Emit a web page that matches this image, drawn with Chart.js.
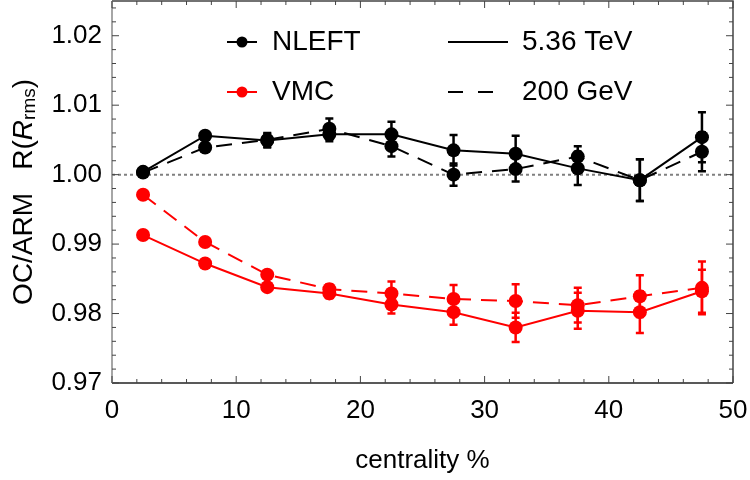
<!DOCTYPE html>
<html>
<head>
<meta charset="utf-8">
<script src="https://cdn.jsdelivr.net/npm/chart.js@4.4.1/dist/chart.umd.min.js"></script>
<style>
  body { margin: 0; background: #fff; }
  #chart { display: block; }
</style>
</head>
<body>
<canvas id="chart" width="750" height="480"></canvas>
<script>
// centrality bins (%)
const centrality = [2.5, 7.5, 12.5, 17.5, 22.5, 27.5, 32.5, 37.5, 42.5, 47.5];

// NLEFT
const nleft536 = [1.0004, 1.0056, 1.0049, 1.0058, 1.0058, 1.0035, 1.0030, 1.0009, 0.9992, 1.0054];
const nleft536Err = [0.0003, 0.0004, 0.0010, 0.0010, 0.0018, 0.0022, 0.0026, 0.0024, 0.0030, 0.0036];
const nleft200 = [1.0003, 1.0039, 1.0050, 1.0066, 1.0041, 1.0000, 1.0008, 1.0026, 0.9992, 1.0033];
const nleft200Err = [0.0003, 0.0004, 0.0010, 0.0015, 0.0015, 0.0016, 0.0018, 0.0015, 0.0030, 0.0028];

// VMC
const vmc536 = [0.9913, 0.9872, 0.9838, 0.9829, 0.9813, 0.9802, 0.9780, 0.9804, 0.9802, 0.9832];
const vmc536Err = [0.0003, 0.0003, 0.0004, 0.0007, 0.0013, 0.0018, 0.0021, 0.0026, 0.0030, 0.0031];
const vmc200 = [0.9971, 0.9903, 0.9856, 0.9835, 0.9829, 0.9821, 0.9818, 0.9812, 0.9825, 0.9837];
const vmc200Err = [0.0003, 0.0003, 0.0005, 0.0007, 0.0017, 0.0020, 0.0024, 0.0025, 0.0030, 0.0038];

const xTicks = [0, 10, 20, 30, 40, 50];
const yTicks = [0.97, 0.98, 0.99, 1.00, 1.01, 1.02];

const FONT = '"Liberation Sans", Arial, sans-serif';

function pts(vals) {
    return vals.map((v, i) => ({ x: centrality[i], y: v }));
}

function series(label, vals, errs, color, dashed) {
    return {
        label,
        data: pts(vals),
        errors: errs,
        borderColor: color,
        backgroundColor: color,
        borderWidth: 2,
        borderDash: dashed ? [16, 10] : [],
        pointRadius: 7,
        pointHoverRadius: 7,
        pointBorderWidth: 0,
        fill: false,
        tension: 0
    };
}

const errorBars = {
    id: 'errorBars',
    beforeDatasetsDraw(chart) {
        const ctx = chart.ctx;
        const yScale = chart.scales.y;
        chart.data.datasets.forEach((ds, i) => {
            if (!ds.errors) return;
            const meta = chart.getDatasetMeta(i);
            ctx.save();
            ctx.strokeStyle = ds.borderColor;
            ctx.lineWidth = 2.5;
            meta.data.forEach((pt, j) => {
                const v = ds.data[j].y;
                const e = ds.errors[j];
                const top = yScale.getPixelForValue(v + e);
                const bot = yScale.getPixelForValue(v - e);
                ctx.beginPath();
                ctx.moveTo(pt.x, top);
                ctx.lineTo(pt.x, bot);
                ctx.moveTo(pt.x - 4, top);
                ctx.lineTo(pt.x + 4, top);
                ctx.moveTo(pt.x - 4, bot);
                ctx.lineTo(pt.x + 4, bot);
                ctx.stroke();
            });
            ctx.restore();
        });
    }
};

const frame = {
    id: 'frame',
    afterDraw(chart) {
        const ctx = chart.ctx;
        const a = chart.chartArea;
        const xs = chart.scales.x;
        const ys = chart.scales.y;
        ctx.save();
        ctx.lineWidth = 1.5;
        // edges
        ctx.strokeStyle = '#444';
        ctx.beginPath();
        ctx.moveTo(a.left, a.top); ctx.lineTo(a.right, a.top); ctx.lineTo(a.right, a.bottom);
        ctx.stroke();
        ctx.strokeStyle = '#222';
        ctx.beginPath();
        ctx.moveTo(a.left, a.bottom); ctx.lineTo(a.right, a.bottom);
        ctx.stroke();
        ctx.strokeStyle = '#888';
        ctx.beginPath();
        ctx.moveTo(a.left, a.top); ctx.lineTo(a.left, a.bottom);
        ctx.stroke();
        // inward ticks
        ctx.strokeStyle = '#444';
        ctx.lineWidth = 1;
        ctx.beginPath();
        for (let v = 0; v <= 50; v += 2) {
            const px = xs.getPixelForValue(v);
            const len = v % 10 === 0 ? 7 : 4;
            ctx.moveTo(px, a.bottom); ctx.lineTo(px, a.bottom - len);
            ctx.moveTo(px, a.top); ctx.lineTo(px, a.top + len);
        }
        for (let k = 0; k <= 27; k++) {
            const v = 0.97 + k * 0.002;
            const py = ys.getPixelForValue(v);
            if (py < a.top) continue;
            const len = k % 5 === 0 ? 7 : 4;
            ctx.moveTo(a.left, py); ctx.lineTo(a.left + len, py);
            ctx.moveTo(a.right, py); ctx.lineTo(a.right - len, py);
        }
        ctx.stroke();

        // y axis title with subscript
        ctx.fillStyle = '#000';
        ctx.translate(24, 192);
        ctx.rotate(-Math.PI / 2);
        ctx.textBaseline = 'middle';
        const f = '28px ' + FONT;
        const fi = 'italic 28px ' + FONT;
        const fs = '19px ' + FONT;
        const parts = [
            { t: 'OC/ARM', f: f, dy: 0 },
            { t: '   ', f: f, dy: 0 },
            { t: 'R(', f: f, dy: 0 },
            { t: 'R', f: fi, dy: 0 },
            { t: 'rms', f: fs, dy: 6 },
            { t: ')', f: f, dy: 0 }
        ];
        let total = 0;
        parts.forEach(p => { ctx.font = p.f; p.w = ctx.measureText(p.t).width; total += p.w; });
        let x = -total / 2;
        parts.forEach(p => {
            ctx.font = p.f;
            ctx.fillText(p.t, x, p.dy);
            x += p.w;
        });
        ctx.restore();

        // legend
        ctx.save();
        ctx.textBaseline = 'middle';
        ctx.font = '28px ' + FONT;
        const rows = [
            { y: 42, color: '#000', name: 'NLEFT', energy: '5.36 TeV', dash: [] },
            { y: 92, color: '#ff0000', name: 'VMC', energy: '200 GeV', dash: [15, 15] }
        ];
        rows.forEach(r => {
            ctx.strokeStyle = r.color;
            ctx.fillStyle = r.color;
            ctx.lineWidth = 2;
            ctx.beginPath();
            ctx.moveTo(227, r.y); ctx.lineTo(257, r.y);
            ctx.stroke();
            ctx.beginPath();
            ctx.arc(242, r.y, 5.5, 0, Math.PI * 2);
            ctx.fill();
            ctx.fillStyle = '#000';
            ctx.fillText(r.name, 272, r.y);
            ctx.strokeStyle = '#000';
            ctx.setLineDash(r.dash);
            ctx.beginPath();
            ctx.moveTo(448, r.y); ctx.lineTo(508, r.y);
            ctx.stroke();
            ctx.setLineDash([]);
            ctx.fillText(r.energy, 522, r.y);
        });
        ctx.restore();
    }
};

const ctx = document.getElementById('chart').getContext('2d');
new Chart(ctx, {
    type: 'line',
    data: {
        datasets: [
            series('NLEFT 5.36 TeV', nleft536, nleft536Err, '#000000', false),
            series('NLEFT 200 GeV', nleft200, nleft200Err, '#000000', true),
            series('VMC 5.36 TeV', vmc536, vmc536Err, '#ff0000', false),
            series('VMC 200 GeV', vmc200, vmc200Err, '#ff0000', true),
            {
                label: 'unity',
                data: [{ x: 0, y: 1 }, { x: 50, y: 1 }],
                borderColor: '#808080',
                borderWidth: 2,
                borderDash: [3, 3],
                pointRadius: 0,
                fill: false
            }
        ]
    },
    options: {
        responsive: false,
        animation: false,
        events: [],
        layout: { autoPadding: false, padding: { left: 0, right: 17, top: 1, bottom: 2 } },
        plugins: {
            legend: { display: false },
            tooltip: { enabled: false }
        },
        scales: {
            x: {
                type: 'linear',
                min: 0,
                max: 50,
                afterBuildTicks: s => { s.ticks = xTicks.map(v => ({ value: v })); },
                afterFit: s => { s.height = 95; s.paddingLeft = 0; s.paddingRight = 0; },
                grid: { display: false, drawTicks: false },
                border: { display: false },
                ticks: {
                    padding: 12,
                    color: '#000',
                    font: { family: FONT, size: 26 },
                    callback: v => String(v)
                },
                title: {
                    display: true,
                    text: 'centrality %',
                    color: '#000',
                    font: { family: FONT, size: 26 },
                    padding: { top: 0, bottom: 2 }
                }
            },
            y: {
                type: 'linear',
                min: 0.97,
                max: 1.025,
                afterBuildTicks: s => { s.ticks = yTicks.map(v => ({ value: v })); },
                afterFit: s => { s.width = 112; s.paddingTop = 0; s.paddingBottom = 0; },
                grid: { display: false, drawTicks: false },
                border: { display: false },
                ticks: {
                    padding: 10,
                    color: '#000',
                    font: { family: FONT, size: 26 },
                    callback: v => v.toFixed(2)
                }
            }
        }
    },
    plugins: [errorBars, frame]
});
</script>
</body>
</html>
